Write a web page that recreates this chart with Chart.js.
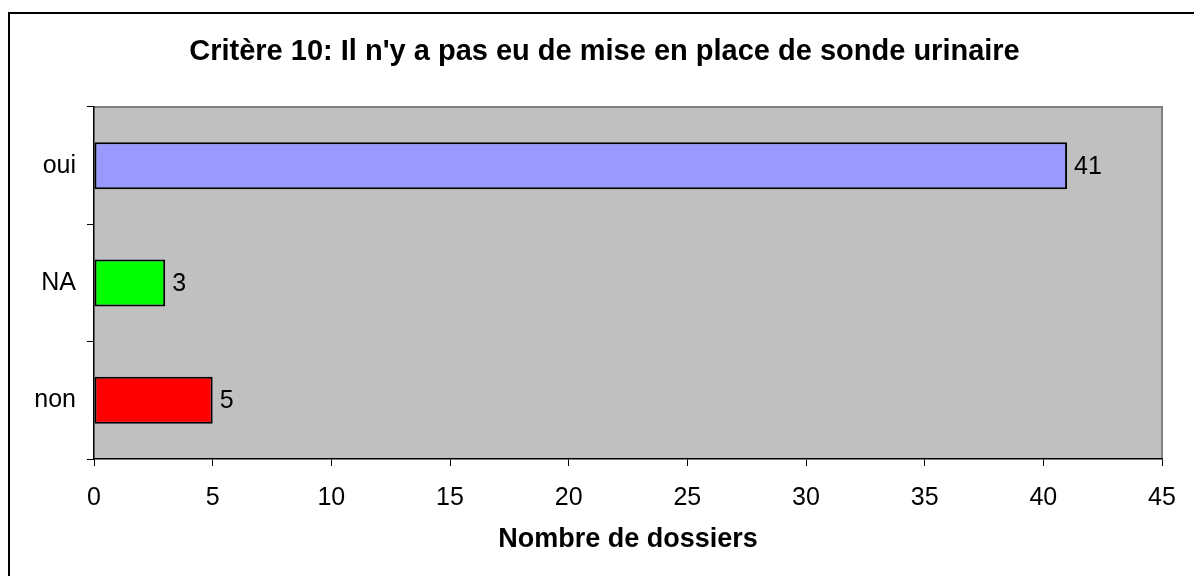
<!DOCTYPE html>
<html>
<head>
<meta charset="utf-8">
<script src="https://cdn.jsdelivr.net/npm/chart.js@4.4.0/dist/chart.umd.min.js"></script>
<style>
  html, body { margin: 0; padding: 0; background: #fff; }
  #wrap { width: 1194px; height: 576px; position: relative; }
</style>
</head>
<body>
<div id="wrap"><canvas id="myChart" width="1194" height="576"></canvas></div>
<script>
// data
const categories = ['oui', 'NA', 'non'];
const counts = [41, 3, 5];
const barColors = ['#9999FF', '#00FF00', '#FF0000'];
const xTicks = [0, 5, 10, 15, 20, 25, 30, 35, 40, 45];

const chartTitle = "Critère 10: Il n'y a pas eu de mise en place de sonde urinaire";
const xAxisTitle = 'Nombre de dossiers';

const FONT = "'Liberation Sans', Arial, sans-serif";

// gray plot area, gray frame on top/right, black outer border
const plotBackground = {
  id: 'plotBackground',
  beforeDraw(chart) {
    const ctx = chart.ctx;
    const a = chart.chartArea;
    ctx.save();
    ctx.lineWidth = 2;
    ctx.strokeStyle = '#000';
    ctx.strokeRect(9, 13, 1300, 700);
    ctx.fillStyle = '#C0C0C0';
    ctx.fillRect(a.left, a.top, a.right - a.left, a.bottom - a.top);
    ctx.strokeStyle = '#808080';
    ctx.beginPath();
    ctx.moveTo(a.left, a.top);
    ctx.lineTo(a.right, a.top);
    ctx.lineTo(a.right, a.bottom);
    ctx.stroke();
    ctx.restore();
  }
};

// value labels to the right of each bar
const valueLabels = {
  id: 'valueLabels',
  afterDatasetsDraw(chart) {
    const ctx = chart.ctx;
    const meta = chart.getDatasetMeta(0);
    ctx.save();
    ctx.font = '25px ' + FONT;
    ctx.fillStyle = '#000';
    ctx.textAlign = 'left';
    ctx.textBaseline = 'middle';
    meta.data.forEach((bar, i) => {
      ctx.fillText(String(counts[i]), bar.x + 7, bar.y + 1);
    });
    ctx.restore();
  }
};

const ctx = document.getElementById('myChart').getContext('2d');
new Chart(ctx, {
  type: 'bar',
  data: {
    labels: categories,
    datasets: [{
      data: counts,
      backgroundColor: barColors,
      borderColor: '#000',
      borderWidth: 2,
      borderSkipped: false,
      barPercentage: 0.4,
      categoryPercentage: 1.0
    }]
  },
  options: {
    indexAxis: 'y',
    responsive: false,
    animation: false,
    layout: { padding: { left: 15, right: 0, top: 0, bottom: 0 } },
    plugins: {
      legend: { display: false },
      tooltip: { enabled: false },
      title: {
        display: true,
        text: chartTitle,
        color: '#000',
        font: { family: FONT, size: 29, weight: 'bold' },
        padding: { top: 35, bottom: 37.2 }
      }
    },
    scales: {
      x: {
        min: 0,
        max: 45,
        afterBuildTicks(scale) {
          scale.ticks = xTicks.map(v => ({ value: v }));
        },
        afterFit(scale) { scale.height = 117; },
        grid: { drawOnChartArea: false, drawTicks: true, tickLength: 7, color: '#000' },
        border: { display: true, color: '#000', width: 1.5 },
        ticks: { color: '#000', font: { family: FONT, size: 25 }, padding: 17 },
        title: {
          display: true,
          text: xAxisTitle,
          color: '#000',
          font: { family: FONT, size: 27, weight: 'bold' },
          padding: { top: 0, bottom: 20 }
        }
      },
      y: {
        afterFit(scale) { scale.width = 79; },
        grid: { drawOnChartArea: false, drawTicks: true, tickLength: 7, color: '#000', offset: true },
        border: { display: true, color: '#000', width: 1.5 },
        ticks: { color: '#000', font: { family: FONT, size: 25 }, padding: 11 }
      },
      // empty spacer on the right so the plot ends where the original does
      yRight: {
        type: 'linear',
        position: 'right',
        afterFit(scale) { scale.width = 32; },
        grid: { display: false },
        border: { display: false },
        ticks: { display: false }
      }
    }
  },
  plugins: [plotBackground, valueLabels]
});
</script>
</body>
</html>
